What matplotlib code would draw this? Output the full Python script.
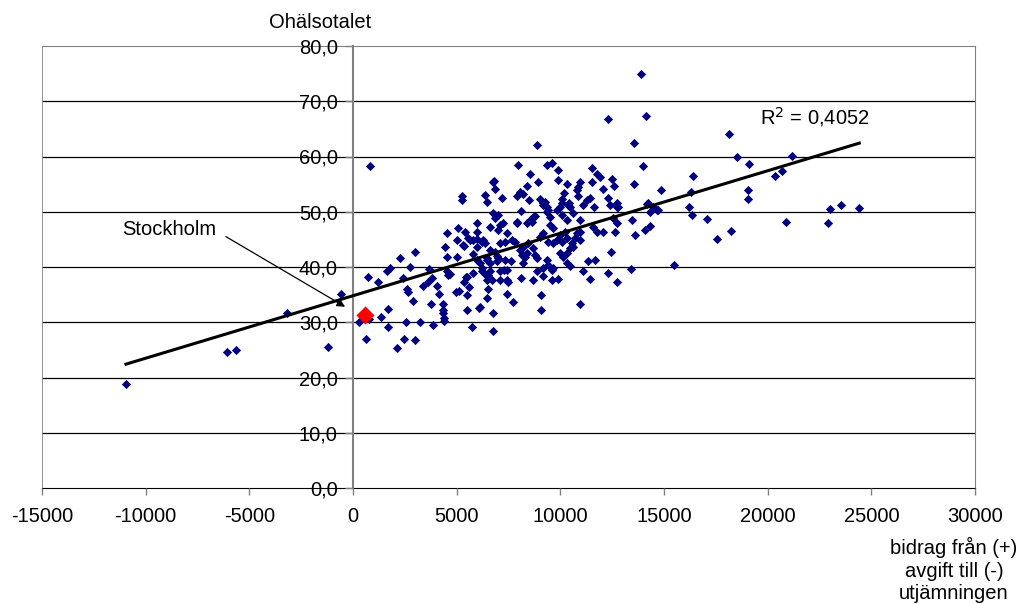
import numpy as np
import matplotlib
matplotlib.use("Agg")
import matplotlib.pyplot as plt

plt.rcParams['font.family'] = ['Liberation Sans', 'DejaVu Sans']
plt.rcParams['axes.unicode_minus'] = False

# bidrag (+) / avgift (-) till utjämningen, kr per invånare
bidrag = [
    -10950, -6090, -5660, -3200, -1220, -580, 300, 630, 790, 710, 820, 1220, 1340, 1630, 1690, 1670, 1780,
    2110, 2270, 2400, 2480, 2560, 2590, 2670, 2750, 2910, 2990, 3010, 3230, 3360, 3630, 3680, 3750, 3800,
    3870, 4070, 4160, 4360, 4360, 4360, 4390, 4390, 4440, 4520, 4520, 4550, 4600, 4680,
    4970, 5000, 5000, 5080, 5130, 5260, 5260, 5320, 5350, 5350, 5420, 5450, 5480, 5480, 5480, 5560, 5610,
    5640, 5720, 5800, 5800, 5800, 5970, 5970, 5970, 5970, 5970, 6090, 6130, 6130, 6210, 6210, 6210, 6290,
    6370, 6380, 6420, 6450, 6450, 6450, 6450, 6450, 6530, 6530, 6610, 6610, 6610, 6610, 6690, 6740, 6740,
    6770, 6770, 6800, 6850, 6850, 6870, 6930, 6930, 7010, 7010, 7010, 7090, 7090, 7090, 7090,
    7170, 7250, 7280, 7330, 7330, 7410, 7410, 7410, 7410, 7490, 7600, 7650, 7700, 7810, 7890, 7890, 7890,
    7950, 8060, 8060, 8100, 8120, 8140, 8220, 8220, 8220, 8300, 8380, 8380, 8380, 8460, 8490, 8540, 8540,
    8620, 8700, 8700, 8700, 8780, 8780, 8860, 8860, 8860, 8940, 9020, 9020, 9070, 9070, 9180, 9180, 9180,
    9180, 9180, 9260, 9340, 9340, 9350, 9350, 9420, 9420, 9420, 9500, 9500, 9580, 9580, 9580, 9660, 9660,
    9660, 9830, 9830, 9900, 9900, 9900, 9990, 9990, 9990, 10070, 10070, 10070, 10070, 10150, 10180, 10230,
    10310, 10310, 10310, 10310, 10310, 10390, 10440, 10470, 10470, 10470, 10550, 10630, 10630, 10710,
    10790, 10790, 10870, 10870, 10950, 10950, 10950, 10950, 10950, 11110, 11110, 11270, 11350, 11430,
    11430, 11510, 11540, 11590, 11600, 11670, 11760, 11760, 11920, 12040, 12070, 12280, 12280, 12280,
    12400, 12450, 12480, 12560, 12590, 12640, 12720, 12720, 12720, 12720, 12800, 13410, 13440, 13560,
    13570, 13600, 13890, 14000, 14090, 14120, 14170, 14250, 14330, 14330, 14490, 14650, 14730, 14840,
    15500, 16210, 16290, 16340, 16400, 17090, 17570, 18150, 18230, 18510, 19040, 19040, 19100, 20360,
    20680, 20890, 21160, 22930, 23010, 23530, 24420,
]
ohalsotal = [
    18.8, 24.7, 24.9, 31.7, 25.6, 35.1, 30.0, 27.0, 30.6, 38.2, 58.3, 37.3, 31.0, 39.3, 32.4, 29.1, 39.8,
    25.3, 41.6, 38.0, 26.9, 30.0, 36.1, 35.5, 40.0, 33.9, 26.7, 42.8, 30.1, 36.6, 37.3, 39.6, 33.3, 38.0,
    29.5, 36.6, 35.1, 33.3, 32.3, 31.6, 30.7, 30.3, 43.6, 39.2, 41.8, 46.2, 38.6, 38.7,
    35.5, 44.9, 41.8, 47.1, 35.7, 52.8, 52.1, 44.0, 43.8, 37.3, 46.4, 38.1, 34.9, 32.3, 38.2, 45.2, 36.3,
    44.9, 29.2, 44.9, 42.4, 38.9, 48.0, 46.4, 43.7, 45.0, 41.3, 32.5, 40.7, 32.7, 39.8, 44.6, 39.3, 44.8,
    44.3, 53.0, 38.6, 51.8, 41.3, 41.6, 34.3, 37.6, 38.5, 36.1, 39.2, 40.7, 47.3, 43.1, 37.6, 31.7, 28.4,
    55.4, 49.7, 55.6, 48.8, 42.8, 54.1, 42.0, 41.0, 49.4, 46.7, 41.6, 47.6, 44.3, 39.2, 37.6,
    52.5, 47.9, 39.5, 44.6, 41.3, 46.1, 39.5, 37.6, 35.1, 37.3, 41.0, 44.9, 33.7, 44.6, 48.0, 52.8, 48.2,
    58.5, 53.6, 43.1, 38.0, 50.2, 42.2, 53.3, 43.7, 40.7, 41.9, 54.7, 47.9, 42.5, 44.3, 52.1, 56.8, 48.5,
    48.2, 49.1, 43.4, 37.6, 49.2, 42.2, 62.1, 41.6, 39.2, 55.4, 52.3, 45.5, 34.9, 32.3, 51.5, 51.2, 46.1,
    39.8, 38.3, 51.8, 58.5, 41.3, 50.9, 50.0, 50.3, 44.6, 40.4, 49.1, 47.6, 58.9, 39.5, 37.6, 47.0, 44.3,
    39.8, 50.4, 44.9, 57.6, 55.7, 37.8, 50.8, 45.8, 42.5, 51.6, 52.3, 49.4, 44.6, 41.9, 53.4, 46.4,
    55.0, 48.5, 45.2, 42.5, 40.7, 51.2, 51.6, 50.8, 43.4, 40.1, 44.3, 49.7, 43.7, 45.2,
    53.9, 46.1, 54.5, 52.8, 55.4, 48.5, 46.4, 44.9, 33.3, 51.2, 39.2, 52.1, 41.0, 52.4,
    37.8, 58.0, 55.4, 47.3, 50.9, 41.3, 56.8, 46.4, 56.3, 54.2, 46.4, 66.8, 52.5, 38.9,
    51.2, 42.7, 55.9, 48.8, 54.7, 46.3, 50.9, 51.6, 47.9, 37.2, 50.8, 39.6, 48.5, 62.4,
    55.0, 45.8, 74.9, 58.2, 46.7, 67.4, 51.4, 51.6, 50.0, 47.4, 50.8, 50.3, 50.4, 53.9,
    40.4, 50.8, 53.5, 49.5, 56.4, 48.7, 45.0, 64.0, 46.6, 59.9, 53.9, 52.3, 58.6, 56.5,
    57.4, 48.2, 60.1, 47.9, 50.5, 51.2, 50.6,
]

# Stockholm
sthlm_x = 580
sthlm_y = 31.4

# linjär trend (avläst)
trend_k = 0.001131
trend_m = 34.8
trend_x = [-10950, 24420]
r2_text = "R$^2$ = 0,4052"

xticks = [-15000, -10000, -5000, 0, 5000, 10000, 15000, 20000, 25000, 30000]
yticks = [0, 10, 20, 30, 40, 50, 60, 70, 80]
ytick_labels = ["0,0", "10,0", "20,0", "30,0", "40,0", "50,0", "60,0", "70,0", "80,0"]

fs = 14.5

fig = plt.figure(figsize=(10.21, 6.04), dpi=100)
ax = fig.add_axes([42 / 1021, 116 / 604, 933 / 1021, 442 / 604])
ax.set_xlim(-15000, 30000)
ax.set_ylim(0, 80)

# rutnät
for y in yticks[1:-1]:
    ax.axhline(y, color="black", lw=0.9, zorder=1)
ax.axvline(-15000, color="#808080", lw=1.2, zorder=1)

ax.spines["left"].set_position(("data", 0))
ax.spines["left"].set_color("#808080")
ax.spines["left"].set_linewidth(1.5)
ax.spines["top"].set_color("#808080")
ax.spines["right"].set_color("#808080")
ax.spines["bottom"].set_color("black")
for s in ["top", "right", "bottom", "left"]:
    ax.spines[s].set_zorder(1)

ax.set_xticks(xticks)
ax.set_xticklabels([str(v) for v in xticks])
ax.set_yticks(yticks)
ax.set_yticklabels(ytick_labels)
ax.tick_params(axis="x", direction="out", length=5, width=1, pad=9, labelsize=fs, color="#808080")
ax.tick_params(axis="y", direction="out", length=6, width=1, pad=5, labelsize=fs, color="#808080")

ax.scatter(bidrag, ohalsotal, marker="D", s=22, color="#000080", linewidths=0, zorder=3)

tx = np.array(trend_x)
ax.plot(tx, trend_k * tx + trend_m, color="black", lw=2.2, zorder=4)

ax.scatter([sthlm_x], [sthlm_y], marker="D", s=85, color="#ff0000", linewidths=0, zorder=5)

ax.text(-11150, 46.7, "Stockholm", fontsize=fs, va="center", ha="left")
ax.annotate("", xy=(-380, 32.8), xytext=(-6130, 45.5),
            arrowprops=dict(arrowstyle="-|>", color="black", lw=0.9, mutation_scale=12,
                            shrinkA=0, shrinkB=0))

ax.text(19630, 67.1, r2_text, fontsize=fs, va="center", ha="left")

fig.text(320 / 1021, 1 - 22 / 604, "Ohälsotalet", fontsize=fs, ha="center", va="center")
fig.text(954 / 1021, 1 - 570 / 604, "bidrag från (+)\navgift till (-)\nutjämningen",
         fontsize=fs, ha="center", va="center", multialignment="center", linespacing=1.22)

fig.savefig("out.png", dpi=100, facecolor="white")
